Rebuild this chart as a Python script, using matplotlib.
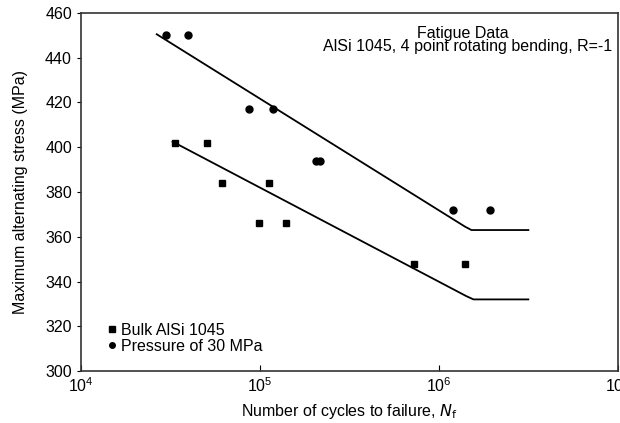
import numpy as np
import matplotlib.pyplot as plt

plt.rcParams['font.family'] = ['Liberation Sans', 'DejaVu Sans']

# Bulk AlSi 1045 (squares)
bulk_cycles = [33700, 50600, 61500, 113000, 99000, 139000, 728000, 1390000]
bulk_stress = [402, 402, 384, 384, 366, 366, 348, 348]

# Pressure of 30 MPa (circles)
press_cycles = [29900, 39800, 86900, 119000, 205000, 216000, 1200000, 1930000]
press_stress = [450, 450, 417, 417, 394, 394, 372, 372]

# fitted S-N lines
fit_press_cycles = [26500, 1400000, 1520000, 3160000]
fit_press_stress = [450.5, 364.5, 363, 363]
fit_bulk_cycles = [32500, 1420000, 1560000, 3160000]
fit_bulk_stress = [402.5, 333.5, 332, 332]

fs = 11.5

fig = plt.figure(figsize=(6.2, 4.23), dpi=100)
ax = fig.add_axes([0.1306, 0.1229, 0.866, 0.8464])

ax.plot(fit_press_cycles, fit_press_stress, color='black', lw=1.3)
ax.plot(fit_bulk_cycles, fit_bulk_stress, color='black', lw=1.3)
ax.plot(bulk_cycles, bulk_stress, 's', color='black', markersize=4.3, label='Bulk AlSi 1045')
ax.plot(press_cycles, press_stress, 'o', color='black', markersize=5, label='Pressure of 30 MPa')

ax.set_xscale('log')
ax.set_xlim(1e4, 1e7)
ax.set_ylim(300, 460)
ax.set_yticks(np.arange(300, 461, 20))
ax.set_xticks([1e4, 1e5, 1e6, 1e7])
ax.minorticks_off()
ax.tick_params(axis='y', direction='out', length=3, labelsize=fs)
ax.tick_params(axis='x', direction='in', length=4, labelsize=fs, pad=4)
for s in ax.spines.values():
    s.set_color('#333333')
    s.set_linewidth(1.2)

ax.set_xlabel('Number of cycles to failure, $N_\\mathrm{f}$', fontsize=fs, labelpad=5)
ax.set_ylabel('Maximum alternating stress (MPa)', fontsize=fs, labelpad=12)

ax.text(0.711, 0.944, 'Fatigue Data', transform=ax.transAxes, ha='center', va='center', fontsize=fs)
ax.text(0.989, 0.905, 'AlSi 1045, 4 point rotating bending, R=-1', transform=ax.transAxes,
        ha='right', va='center', fontsize=fs)

leg = ax.legend(loc='center left', frameon=False, fontsize=fs, handlelength=0.4, handletextpad=0.38,
                borderpad=0, borderaxespad=0, labelspacing=0.08, bbox_to_anchor=(0.052, 0.091))
for h in leg.legend_handles:
    h.set_markersize(4)

fig.savefig('out.png', dpi=100)
